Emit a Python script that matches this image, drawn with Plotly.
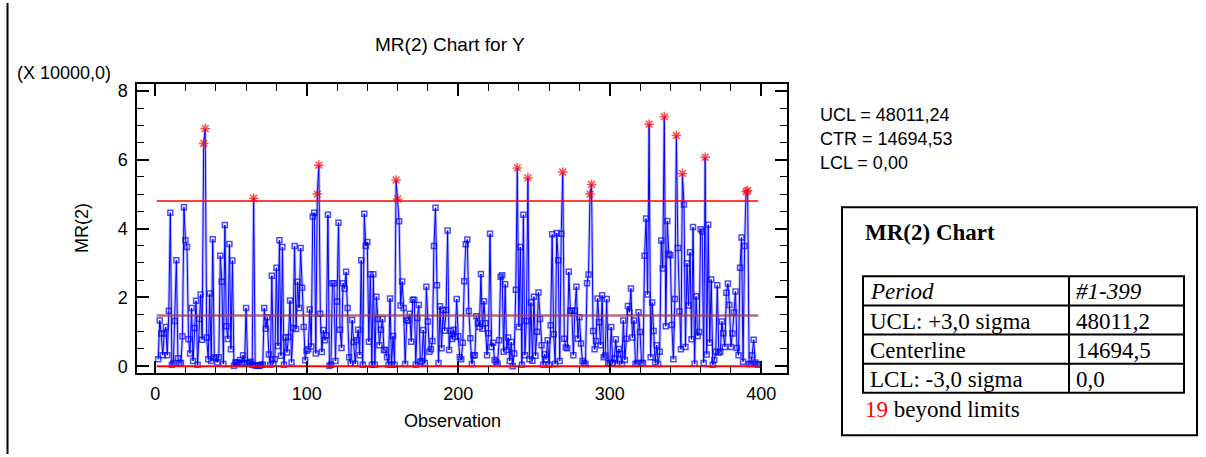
import plotly.graph_objects as go

# ---------------- data (MR values, in units of 10000) ----------------
mr_seg1 = [0.20, 1.33, 0.95, 0.32, 0.95, 1.14, 0.32, 1.61, 4.46, 0.04,
           0.09, 1.31, 3.08, 0.23, 0.09, 0.09, 0.87, 4.62, 3.66, 3.46,
           0.78, 0.37, 1.69, 0.15, 1.11, 1.90, 0.04, 1.37, 2.08, 0.77,
           6.47, 6.90, 0.83, 0.20, 2.11, 0.15, 3.69, 0.26, 0.22, 0.11,
           0.26, 3.21, 2.45, 0.06, 4.10, 1.16, 0.79, 3.55, 0.49, 3.07,
           0.01, 0.11, 0.11, 0.11, 0.18, 0.09, 0.32, 0.09, 1.69, 0.09,
           0.09, 0.13, 0.04, 4.88]
mr_seg2 = [0.02, 0.01, 0.02, 0.01, 0.04, 0.04, 1.69, 1.09, 1.42, 0.34,
           0.04, 2.63, 0.07, 0.20, 2.86, 0.59, 3.66, 0.30, 3.46, 0.04,
           0.83, 0.40, 0.85, 1.91, 0.11, 1.11, 3.49, 1.08, 2.45, 1.69,
           3.43, 2.28, 1.14, 0.17, 0.45, 0.49, 1.65, 0.57, 4.35, 4.46,
           0.37, 5.00, 5.84, 1.52, 0.41, 1.05, 0.75, 0.90, 4.40, 0.01,
           0.04, 2.41, 2.41, 0.15, 1.88, 4.17, 1.06, 0.53, 2.41, 2.25,
           2.74, 1.69, 0.26, 0.07, 1.34, 0.70, 0.07, 0.75, 1.06]
mr_seg3 = [0.32, 3.08, 0.04, 4.43, 3.49, 3.61, 0.71, 2.67, 0.04, 2.67,
           0.04, 2.02, 1.37, 0.61, 1.06, 1.37, 0.47, 0.47, 0.26, 0.04,
           1.97, 0.04, 0.88, 0.04, 5.41, 4.86, 4.21, 1.76, 2.46, 1.69,
           0.06, 1.33, 1.33, 1.52, 0.71, 1.93, 1.93, 0.04, 1.40, 1.78,
           0.13, 0.15, 1.05, 0.09, 2.31, 1.30, 0.42, 0.49, 0.73, 3.49,
           4.60, 2.35, 0.09, 1.74, 0.52, 1.63, 1.03, 1.63, 3.94, 0.47,
           1.03, 0.79, 1.06, 0.85, 1.95, 0.87, 0.26]
mr_seg4 = [0.20, 0.68, 2.47, 3.54, 3.68, 1.60, 0.81, 0.06, 0.31, 0.32,
           1.45, 1.25, 1.14, 2.68, 1.09, 1.89, 1.25, 0.32, 0.96, 3.85,
           0.56, 0.68, 0.18, 0.13, 0.07, 0.75, 2.60, 2.64, 0.42, 2.38,
           0.47, 0.83, 0.15, 0.70, 0.00, 0.37, 2.22, 5.76, 1.14, 3.46,
           0.04, 4.40, 0.32, 1.31, 5.47, 0.20, 1.85, 0.16, 2.02, 0.30,
           1.00, 2.14, 1.37, 0.61, 0.04, 0.35, 0.20, 0.75, 0.04, 1.19,
           3.83, 0.93, 0.06, 3.87, 3.08, 0.15, 3.85, 5.64]
mr_seg5 = [0.80, 0.54, 0.52, 2.74, 1.61, 1.61, 0.32, 1.61, 2.31, 0.80,
           1.42, 0.66, 0.15, 0.09, 0.06, 2.41, 2.66, 5.00, 5.28, 1.02,
           0.49, 0.73, 1.97, 1.28, 0.61, 2.06, 0.26, 0.31, 1.95, 0.09,
           0.09, 1.14, 0.09, 0.22, 0.78, 0.06, 0.50, 0.35, 0.06, 1.33,
           0.18, 0.80, 1.75, 1.57, 2.26, 0.83, 1.33, 0.06, 0.09, 1.57,
           0.99, 0.09, 0.09, 3.21, 4.29, 2.08, 7.03, 0.26, 1.85, 1.02,
           0.11, 0.61, 0.06, 0.42, 3.65, 2.84, 7.25, 1.16, 4.22]
mr_seg6 = [3.26, 3.22, 1.20, 0.20, 1.95, 6.70, 3.43, 1.59, 0.49, 5.60,
           4.70, 0.56, 2.99, 1.76, 3.31, 0.78, 4.04, 0.07, 2.03, 0.88,
           0.99, 3.98, 3.91, 0.09, 6.07, 0.34, 4.11, 0.68, 2.52, 0.04,
           0.18, 0.42, 2.35, 0.39, 0.42, 1.30, 0.96, 0.56, 2.13, 2.40,
           1.78, 0.56, 0.95, 1.56, 2.17, 0.53, 0.32, 2.86, 3.74, 0.13,
           3.49, 5.07, 5.10, 0.06, 0.06, 0.32, 0.77, 0.11, 0.06, 0.04]

mr_values = mr_seg1 + mr_seg2 + mr_seg3 + mr_seg4 + mr_seg5 + mr_seg6
observations = list(range(2, 2 + len(mr_values)))

ucl = 48011.24 / 10000
ctr = 14694.53 / 10000
lcl = 0.0
limit_x = [1, 398]

x_ticks = [0, 100, 200, 300, 400]
y_ticks = [0, 2, 4, 6, 8]

title_text = "MR(2) Chart for Y"
x_title = "Observation"
y_title = "MR(2)"
scale_text = "(X 10000,0)"
stats_lines = ["UCL = 48011,24", "CTR = 14694,53", "LCL = 0,00"]
box_title = "MR(2) Chart"
table_rows = [["Period", "#1-399"],
              ["UCL: +3,0 sigma", "48011,2"],
              ["Centerline", "14694,5"],
              ["LCL: -3,0 sigma", "0,0"]]
beyond_count = "19"
beyond_text = " beyond limits"

# ---------------- figure ----------------
W, H = 1206, 457


def fx(x):
    return x / W


def fy(y):
    return 1 - y / H


SANS = "Liberation Sans, Arial, sans-serif"
SERIF = "Liberation Serif, Times New Roman, serif"

out = [v > ucl for v in mr_values]
symbols = ["asterisk-open" if o else "square-open" for o in out]
colors = ["#ff0000" if o else "#0000ff" for o in out]
sizes = [8 if o else 5 for o in out]

fig = go.Figure()
fig.add_trace(go.Scatter(
    x=observations, y=mr_values, mode="lines",
    line=dict(color="rgba(80,80,255,0.35)", width=3), hoverinfo="skip",
    showlegend=False))
fig.add_trace(go.Scatter(
    x=observations, y=mr_values, mode="lines+markers",
    line=dict(color="#0000ff", width=1),
    marker=dict(symbol=symbols, color=colors, size=sizes,
                line=dict(color=colors, width=1.5)),
    showlegend=False))
fig.add_trace(go.Scatter(x=limit_x, y=[ucl, ucl], mode="lines",
                         line=dict(color="#ff0000", width=1.5), showlegend=False))
fig.add_trace(go.Scatter(x=limit_x, y=[ctr, ctr], mode="lines",
                         line=dict(color="rgba(150,60,90,0.75)", width=2.5), showlegend=False))
fig.add_trace(go.Scatter(x=limit_x, y=[lcl, lcl], mode="lines",
                         line=dict(color="#ff0000", width=2), showlegend=False))

x0_px, x1_px = 137, 787
y0_px, y1_px = 82, 375

axis_common = dict(showline=True, linecolor="black", linewidth=1.5, mirror="ticks",
                   ticks="inside", tickcolor="black", tickwidth=1.5, ticklen=12,
                   showgrid=False, zeroline=False,
                   tickfont=dict(family=SANS, size=18, color="black"))

fig.update_layout(
    width=W, height=H, margin=dict(l=0, r=0, t=0, b=0),
    paper_bgcolor="white", plot_bgcolor="white",
    xaxis=dict(domain=[fx(x0_px), fx(x1_px)], range=[-12, 417],
               tickvals=x_ticks, ticktext=[str(t) for t in x_ticks],
               minor=dict(dtick=20, tick0=0, ticklen=7, ticks="inside",
                          tickcolor="black", tickwidth=1),
               ticklabelstandoff=4, **axis_common),
    yaxis=dict(domain=[fy(y1_px), fy(y0_px)], range=[-0.2, 8.2],
               tickvals=y_ticks, ticktext=[str(t) for t in y_ticks],
               minor=dict(dtick=0.5, tick0=0, ticklen=7, ticks="inside",
                          tickcolor="black", tickwidth=1),
               ticklabelstandoff=4, **axis_common),
)

ann = []


def text(x, y, s, size=18, family=SANS, xanchor="left", color="black", **kw):
    ann.append(dict(x=fx(x), y=fy(y), xref="paper", yref="paper", text=s,
                    showarrow=False, xanchor=xanchor, yanchor="middle",
                    font=dict(family=family, size=size, color=color), **kw))


text(450, 42, title_text, size=19, xanchor="center")
text(15, 71, scale_text, size=18)
text(82, 228, y_title, size=18, xanchor="center", textangle=-90)
text(452, 424, x_title, size=18, xanchor="center")
for i, s in enumerate(stats_lines):
    text(818, 113 + i * 24.5, s, size=18)

# info box
shapes = []
shapes.append(dict(type="rect", xref="paper", yref="paper",
                   x0=fx(842), x1=fx(1197), y0=fy(438), y1=fy(207),
                   line=dict(color="black", width=2)))
text(863, 233, "<b>" + box_title + "</b>", size=23, family=SERIF)
row_y = [277, 306.5, 336, 365.5, 395]
tx0, tx1, tsplit = 863, 1184, 1069
shapes.append(dict(type="rect", xref="paper", yref="paper",
                   x0=fx(tx0), x1=fx(tx1), y0=fy(row_y[-1]), y1=fy(row_y[0]),
                   line=dict(color="black", width=2)))
for yy in row_y[1:-1]:
    shapes.append(dict(type="line", xref="paper", yref="paper",
                       x0=fx(tx0), x1=fx(tx1), y0=fy(yy), y1=fy(yy),
                       line=dict(color="black", width=2)))
shapes.append(dict(type="line", xref="paper", yref="paper",
                   x0=fx(tsplit), x1=fx(tsplit), y0=fy(row_y[-1]), y1=fy(row_y[0]),
                   line=dict(color="black", width=2)))
for i, (a, b) in enumerate(table_rows):
    yc = (row_y[i] + row_y[i + 1]) / 2 + 1
    if i == 0:
        a, b = "<i>" + a + "</i>", "<i>" + b + "</i>"
    text(868, yc, a, size=23, family=SERIF)
    text(1074, yc, b, size=23, family=SERIF)
text(863, 412, "<span style='color:#ff0000'>" + beyond_count + "</span>" + beyond_text,
     size=23, family=SERIF)

# page frame line at left
shapes.append(dict(type="line", xref="paper", yref="paper",
                   x0=fx(7.5), x1=fx(7.5), y0=0, y1=1,
                   line=dict(color="black", width=2)))

fig.update_layout(annotations=ann, shapes=shapes)
fig.write_html("out.html")
